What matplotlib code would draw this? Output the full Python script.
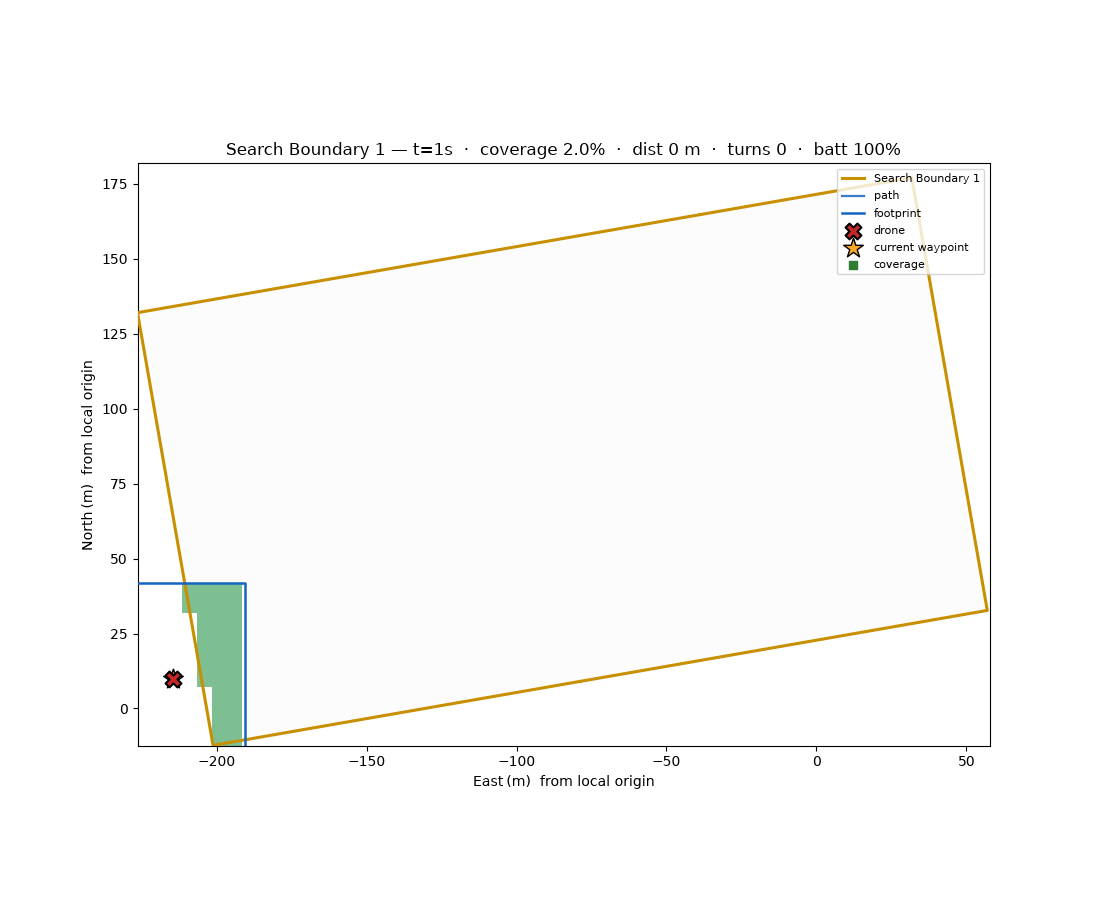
import matplotlib
matplotlib.use("Agg")
import matplotlib.pyplot as plt
import numpy as np

plt.rcParams["text.hinting"] = "no_autohint"
plt.rcParams["text.hinting_factor"] = 8

# boundary corners, east / north in metres
boundary_e = [-226.4, -201.2, 57.0, 31.8, -226.4]
boundary_n = [132.0, -12.3, 32.7, 177.0, 132.0]

# coverage grid (1 = seen), row 0 is the southern one
cov_e = [-211.7, -206.7, -201.7, -196.7, -191.7]
cov_n = [-17.0, 7.3, 32.0, 41.7]
coverage = [
    [0, 0, 1, 1],
    [0, 1, 1, 1],
    [1, 1, 1, 1],
]

path_e = [-214.7, -214.7]
path_n = [9.7, 12.5]
drone_e = -214.7
drone_n = 9.7
wp_e = -214.7
wp_n = 9.7

foot_e = [-238.3, -190.7, -190.7, -238.3, -238.3]
foot_n = [-21.7, -21.7, 41.7, 41.7, -21.7]

fig, ax = plt.subplots(figsize=(11, 9), dpi=100)

ax.fill(boundary_e, boundary_n, color="#fcfcfc", zorder=0)
grid = np.ma.masked_equal(np.array(coverage), 0)
ax.pcolormesh(cov_e, cov_n, grid, cmap=matplotlib.colors.ListedColormap(["#2b964d"]),
              alpha=0.6, linewidth=0, rasterized=True, zorder=1)
ax.plot(boundary_e, boundary_n, color="#c89000", lw=2.2, label="Search Boundary 1", zorder=3)
ax.plot(path_e, path_n, color="#1565c0", lw=1.6, alpha=0.85, label="path", zorder=4)
ax.plot(foot_e, foot_n, color="#1565c0", lw=1.8, label="footprint", zorder=4)
ax.scatter([drone_e], [drone_n], marker="X", s=130, c="#c62828", edgecolors="black",
           linewidths=1.5, label="drone", zorder=6)
ax.scatter([wp_e], [wp_n], marker="*", s=220, c="#f9a825", edgecolors="black",
           linewidths=1.0, label="current waypoint", zorder=5)
ax.scatter([], [], marker="s", s=40, c="#2e7d32", label="coverage")

ax.set_xlim(-226.4, 57.9)
ax.set_ylim(-12.4, 181.8)
ax.set_aspect("equal")
ax.set_xlabel("East\u2009(m)  from local origin", fontsize=10.2)
ax.set_ylabel("North\u2009(m)  from local origin", fontsize=10.2)
ax.set_title("Search Boundary 1 \u2014 t=1s  \u00b7  coverage 2.0%  \u00b7  dist 0 m  \u00b7  turns 0  \u00b7  batt 100%",
             fontsize=12.1)
ax.set_xticks([-200, -150, -100, -50, 0, 50])
ax.set_yticks([0, 25, 50, 75, 100, 125, 150, 175])
ax.legend(loc="upper right", fontsize=8, labelspacing=0.55, handletextpad=0.9)

fig.savefig("out.png", dpi=100)
